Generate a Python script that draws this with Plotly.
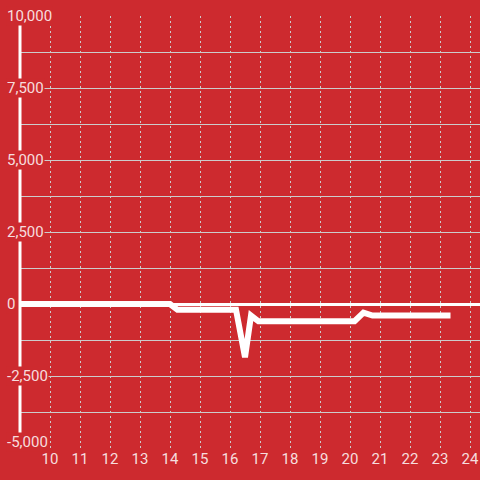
import plotly.graph_objects as go

hours = [9, 14.0, 14.25, 16.2, 16.5, 16.7, 16.95, 20.15, 20.45, 20.75, 23.35]
values = [0, 0, -200, -200, -1850, -400, -600, -600, -300, -400, -400]

x_ticks = list(range(10, 25))
y_ticks = [10000, 7500, 5000, 2500, 0, -2500, -5000]
y_labels = ["10,000", "7,500", "5,000", "2,500", "0", "-2,500", "-5,000"]

BG = "#cd2a2f"
TXT = "rgba(255,255,255,0.85)"
GRID = "#cccccc"
FONT = "Roboto"

fig = go.Figure()
fig.add_trace(go.Scatter(x=hours, y=values, mode="lines",
                         line=dict(color="white", width=6),
                         hoverinfo="skip", showlegend=False))

fig.update_layout(
    width=480, height=480,
    margin=dict(l=20, r=0, t=16, b=32, autoexpand=False),
    paper_bgcolor=BG, plot_bgcolor=BG,
    font=dict(family=FONT, size=15, color=TXT),
    xaxis=dict(range=[9, 24.333], tickvals=x_ticks, showgrid=True,
               gridcolor=GRID, gridwidth=1.3, griddash="2px,3px",
               zeroline=False, showline=False, ticks="", automargin=False,
               tickfont=dict(family=FONT, size=15, color=TXT)),
    yaxis=dict(range=[-5000, 10000], dtick=1250, showgrid=True,
               gridcolor=GRID, gridwidth=1.3, showticklabels=False,
               zeroline=True, zerolinecolor="white", zerolinewidth=3,
               showline=False, ticks="", automargin=False),
)

fig.add_shape(type="line", xref="paper", yref="y", x0=0, x1=0,
              y0=-5000, y1=10000, line=dict(color="white", width=3),
              layer="above")

for v, lab in zip(y_ticks, y_labels):
    fig.add_annotation(xref="paper", yref="y", x=-14 / 460, y=v, text=lab,
                       showarrow=False, xanchor="left", yanchor="middle",
                       yshift=6 if v == -5000 else 0,
                       bgcolor=BG, borderpad=0,
                       font=dict(family=FONT, size=15, color=TXT))

fig.write_html("out.html", config={"displayModeBar": False},
               post_script="document.body.style.margin='0';"
                           "document.body.style.background='%s';" % BG)
